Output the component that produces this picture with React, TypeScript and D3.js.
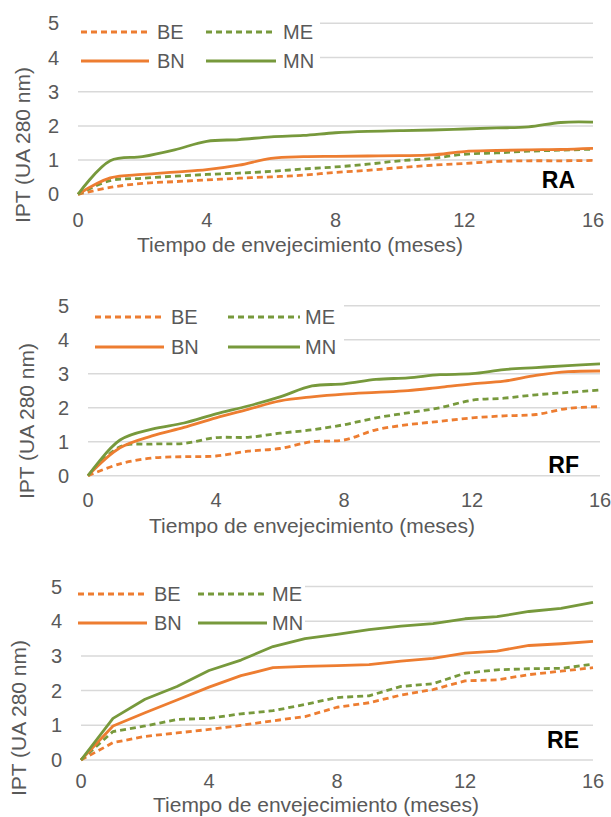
import { useEffect, useRef } from 'react';
import * as d3 from 'd3';

// months of ageing
const months = [0, 1, 2, 3, 4, 5, 6, 7, 8, 9, 10, 11, 12, 13, 14, 15, 16];
const xTicks = [0, 4, 8, 12, 16];
const yTicks = [0, 1, 2, 3, 4, 5];
const seriesNames = ['BE', 'ME', 'BN', 'MN'];

// RA
const raBE = [0, 0.2, 0.32, 0.37, 0.42, 0.47, 0.51, 0.56, 0.64, 0.7, 0.78, 0.85, 0.9, 0.96, 0.98, 0.98, 0.99];
const raME = [0, 0.4, 0.47, 0.53, 0.58, 0.62, 0.67, 0.74, 0.8, 0.88, 0.98, 1.05, 1.17, 1.21, 1.26, 1.29, 1.32];
const raBN = [0, 0.48, 0.58, 0.65, 0.72, 0.85, 1.05, 1.1, 1.11, 1.12, 1.13, 1.15, 1.25, 1.28, 1.3, 1.31, 1.34];
const raMN = [0, 0.98, 1.1, 1.3, 1.55, 1.6, 1.68, 1.72, 1.8, 1.84, 1.86, 1.88, 1.91, 1.94, 1.97, 2.1, 2.11];

// RF
const rfBE = [0, 0.35, 0.52, 0.56, 0.58, 0.72, 0.8, 1.0, 1.05, 1.35, 1.5, 1.6, 1.7, 1.76, 1.8, 1.98, 2.03];
const rfME = [0, 0.85, 0.93, 0.95, 1.12, 1.13, 1.25, 1.35, 1.5, 1.7, 1.85, 2.0, 2.22, 2.28, 2.38, 2.45, 2.52];
const rfBN = [0, 0.82, 1.17, 1.42, 1.7, 1.95, 2.2, 2.32, 2.4, 2.45, 2.5, 2.6, 2.7, 2.78, 2.95, 3.06, 3.08];
const rfMN = [0, 1.05, 1.37, 1.55, 1.82, 2.05, 2.32, 2.64, 2.7, 2.83, 2.88, 2.97, 3.0, 3.12, 3.18, 3.24, 3.29];

// RE
const reBE = [0, 0.5, 0.68, 0.78, 0.88, 1.0, 1.13, 1.25, 1.52, 1.65, 1.87, 2.03, 2.28, 2.31, 2.46, 2.56, 2.66];
const reME = [0, 0.82, 0.98, 1.17, 1.2, 1.33, 1.42, 1.6, 1.8, 1.85, 2.12, 2.2, 2.5, 2.6, 2.63, 2.64, 2.76];
const reBN = [0, 0.98, 1.36, 1.73, 2.1, 2.43, 2.66, 2.7, 2.72, 2.75, 2.85, 2.93, 3.08, 3.14, 3.3, 3.35, 3.42];
const reMN = [0, 1.2, 1.75, 2.12, 2.58, 2.88, 3.27, 3.5, 3.62, 3.76, 3.86, 3.93, 4.07, 4.13, 4.28, 4.37, 4.54];

const ORANGE = '#ED7D31';
const GREEN = '#77993C';
const TXT = '#595959';
const FONT = '"Liberation Sans", Arial, sans-serif';

const styles: Record<string, { color: string; dash: string | null }> = {
  BE: { color: ORANGE, dash: '6,4' },
  ME: { color: GREEN, dash: '6,4' },
  BN: { color: ORANGE, dash: null },
  MN: { color: GREEN, dash: null },
};

const panels = [
  {
    label: 'RA', series: [raBE, raME, raBN, raMN], smooth: true,
    x0: 78, x1: 593, yb: 194.3, yt: 23.3,
    xTickY: 220, xTitle: [300, 245], yTitle: [23, 145], tag: [575, 188],
    legend: { rows: [32, 61], cols: [[81, 149, 157], [206, 276, 283]], boxRight: 320 },
  },
  {
    label: 'RF', series: [rfBE, rfME, rfBN, rfMN], smooth: true,
    x0: 88, x1: 600, yb: 475.7, yt: 305.7,
    xTickY: 500, xTitle: [312, 526], yTitle: [27, 421], tag: [579, 473],
    legend: { rows: [317, 347], cols: [[95, 164, 171], [228, 300, 305]], boxRight: 344 },
  },
  {
    label: 'RE', series: [reBE, reME, reBN, reMN], smooth: false,
    x0: 81, x1: 593, yb: 760, yt: 586.5,
    xTickY: 781, xTitle: [316, 805], yTitle: [19, 718], tag: [579, 748],
    legend: { rows: [594, 623], cols: [[78, 147, 154], [198, 267, 272]], boxRight: 305 },
  },
];

const App = () => {
  const svgRef = useRef<SVGSVGElement>(null);

  useEffect(() => {
    const svg = d3.select(svgRef.current);
    svg.selectAll('*').remove();

    panels.forEach((p) => {
      const g = svg.append('g');
      const x = d3.scaleLinear().domain([0, 16]).range([p.x0, p.x1]);
      const y = d3.scaleLinear().domain([0, 5]).range([p.yb, p.yt]);

      // gridlines
      g.selectAll('line.grid')
        .data(yTicks)
        .enter()
        .append('line')
        .attr('x1', p.x0)
        .attr('x2', p.x1)
        .attr('y1', (d) => y(d))
        .attr('y2', (d) => y(d))
        .attr('stroke', '#D9D9D9')
        .attr('stroke-width', 1.5);

      // y tick labels
      g.selectAll('text.ytick')
        .data(yTicks)
        .enter()
        .append('text')
        .attr('x', p.x0 - 19)
        .attr('y', (d) => y(d))
        .attr('dy', '0.35em')
        .attr('text-anchor', 'end')
        .attr('font-family', FONT)
        .attr('font-size', 20)
        .attr('fill', TXT)
        .text((d) => d);

      // x tick labels
      g.selectAll('text.xtick')
        .data(xTicks)
        .enter()
        .append('text')
        .attr('x', (d) => x(d))
        .attr('y', p.xTickY)
        .attr('dy', '0.35em')
        .attr('text-anchor', 'middle')
        .attr('font-family', FONT)
        .attr('font-size', 20)
        .attr('fill', TXT)
        .text((d) => d);

      // axis titles
      g.append('text')
        .attr('x', p.xTitle[0])
        .attr('y', p.xTitle[1])
        .attr('dy', '0.35em')
        .attr('text-anchor', 'middle')
        .attr('font-family', FONT)
        .attr('font-size', 21)
        .attr('fill', TXT)
        .text('Tiempo de envejecimiento (meses)');

      g.append('text')
        .attr('transform', `translate(${p.yTitle[0]},${p.yTitle[1]}) rotate(-90)`)
        .attr('dy', '0.35em')
        .attr('text-anchor', 'middle')
        .attr('font-family', FONT)
        .attr('font-size', 21)
        .attr('fill', TXT)
        .text('IPT (UA 280 nm)');

      // legend (white box over the grid)
      const lg = p.legend;
      g.append('rect')
        .attr('x', p.x0 - 4)
        .attr('y', lg.rows[0] - 16)
        .attr('width', lg.boxRight - p.x0 + 4)
        .attr('height', lg.rows[1] - lg.rows[0] + 32)
        .attr('fill', '#fff');

      seriesNames.forEach((name, i) => {
        const row = lg.rows[Math.floor(i / 2)];
        const col = lg.cols[i % 2];
        const st = styles[name];
        g.append('line')
          .attr('x1', col[0])
          .attr('x2', col[1])
          .attr('y1', row)
          .attr('y2', row)
          .attr('stroke', st.color)
          .attr('stroke-width', 2.8)
          .attr('stroke-dasharray', st.dash);
        g.append('text')
          .attr('x', col[2])
          .attr('y', row)
          .attr('dy', '0.35em')
          .attr('font-family', FONT)
          .attr('font-size', 20)
          .attr('fill', TXT)
          .text(name);
      });

      // series lines
      const line = d3
        .line<number>()
        .x((_, i) => x(months[i]))
        .y((d) => y(d))
        .curve(p.smooth ? d3.curveCatmullRom.alpha(0.5) : d3.curveLinear);

      seriesNames.forEach((name, i) => {
        const st = styles[name];
        g.append('path')
          .datum(p.series[i])
          .attr('d', line)
          .attr('fill', 'none')
          .attr('stroke', st.color)
          .attr('stroke-width', 2.8)
          .attr('stroke-linejoin', 'round')
          .attr('stroke-dasharray', st.dash);
      });

      // panel tag
      g.append('text')
        .attr('x', p.tag[0])
        .attr('y', p.tag[1])
        .attr('text-anchor', 'end')
        .attr('font-family', FONT)
        .attr('font-size', 23)
        .attr('font-weight', 'bold')
        .attr('fill', '#000')
        .text(p.label);
    });
  }, []);

  return (
    <svg
      ref={svgRef}
      width={611}
      height={817}
      style={{ position: 'absolute', left: 0, top: 0, background: '#fff' }}
    />
  );
};

export default App;
